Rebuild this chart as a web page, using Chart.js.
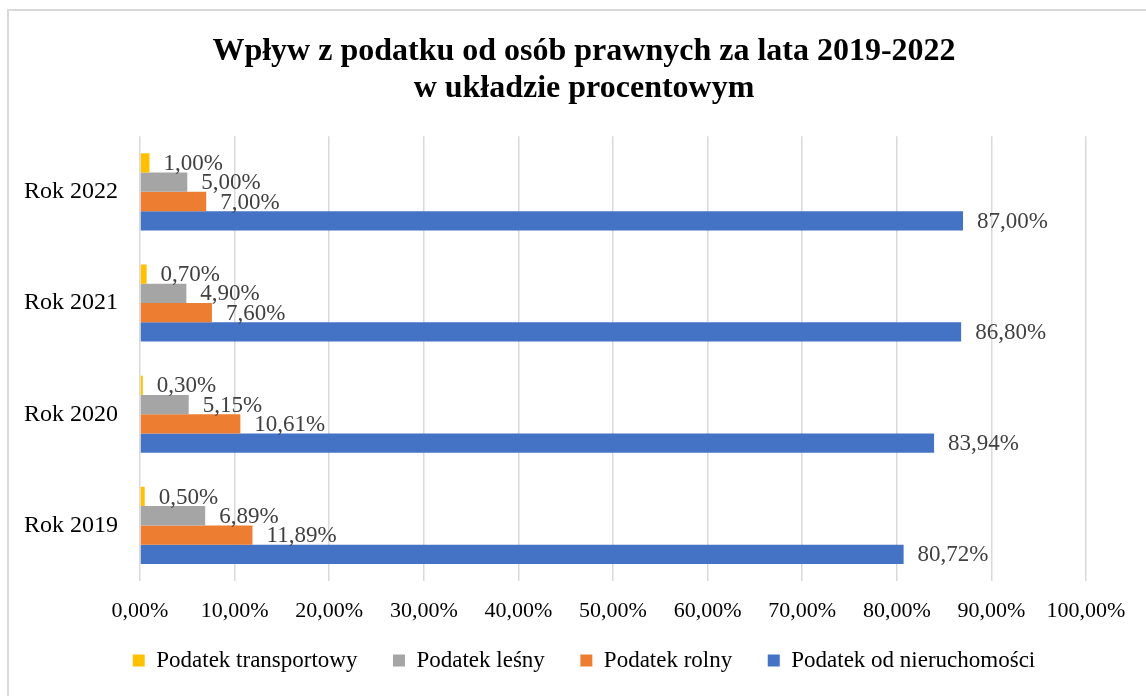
<!DOCTYPE html>
<html lang="pl">
<head>
<meta charset="utf-8">
<title>Wpływ z podatku od osób prawnych</title>
<script src="https://cdn.jsdelivr.net/npm/chart.js@4.4.1/dist/chart.umd.min.js"></script>
<style>
  html, body { margin: 0; padding: 0; background: #fff; overflow: hidden; }
  #frame {
    position: absolute; left: 7px; top: 9px; width: 1200px; height: 800px;
    border: 2px solid #d9d9d9; box-sizing: border-box;
  }
  #wrap { position: absolute; left: 0; top: 0; width: 1168px; height: 696px; }
</style>
</head>
<body>
<div id="frame"></div>
<div id="wrap"><canvas id="chart"></canvas></div>
<script>
  const categories = ['Rok 2022', 'Rok 2021', 'Rok 2020', 'Rok 2019'];
  const seriesNames = ['Podatek transportowy', 'Podatek leśny', 'Podatek rolny', 'Podatek od nieruchomości'];
  const transportowy = [1.00, 0.70, 0.30, 0.50];
  const lesny = [5.00, 4.90, 5.15, 6.89];
  const rolny = [7.00, 7.60, 10.61, 11.89];
  const nieruchomosci = [87.00, 86.80, 83.94, 80.72];
  const xTicks = [0, 10, 20, 30, 40, 50, 60, 70, 80, 90, 100];

  const colors = ['#FFC000', '#A5A5A5', '#ED7D31', '#4472C4'];
  const serif = "'Liberation Serif', 'Times New Roman', serif";

  function pct(v) {
    return v.toFixed(2).replace('.', ',') + '%';
  }

  // value labels at the end of each bar
  const barLabels = {
    id: 'barLabels',
    afterDatasetsDraw(chart) {
      const ctx = chart.ctx;
      ctx.save();
      ctx.font = '23px ' + serif;
      ctx.fillStyle = '#404040';
      ctx.textAlign = 'left';
      ctx.textBaseline = 'middle';
      chart.data.datasets.forEach((ds, di) => {
        const meta = chart.getDatasetMeta(di);
        meta.data.forEach((bar, i) => {
          ctx.fillText(pct(ds.data[i]), bar.x + 14, bar.y + 1);
        });
      });
      ctx.restore();
    }
  };

  // legend padding is wide for horizontal spacing; pull the row up a bit
  const legendNudge = {
    id: 'legendNudge',
    afterLayout(chart) {
      const lg = chart.legend;
      if (lg) {
        lg.top -= 8.5;
        lg.bottom -= 8.5;
      }
    }
  };

  Chart.defaults.font.family = serif;

  const canvas = document.getElementById('chart');
  canvas.style.width = '100%';
  canvas.style.height = '100%';

  const datasets = [transportowy, lesny, rolny, nieruchomosci].map((d, idx) => ({
    label: seriesNames[idx],
    data: d,
    backgroundColor: colors[idx],
    borderWidth: 0,
    categoryPercentage: 0.694,
    barPercentage: 1
  }));

  new Chart(canvas.getContext('2d'), {
    type: 'bar',
    data: { labels: categories, datasets },
    options: {
      indexAxis: 'y',
      responsive: true,
      maintainAspectRatio: false,
      animation: false,
      layout: { padding: { left: 0, right: 0, top: 0, bottom: 5.5 } },
      plugins: {
        title: {
          display: true,
          text: ['Wpływ z podatku od osób prawnych za lata 2019-2022', 'w układzie procentowym'],
          color: '#000',
          font: { size: 32, weight: 'bold', family: serif, lineHeight: 1.16 },
          padding: { top: 33, bottom: 29 }
        },
        legend: {
          display: true,
          position: 'bottom',
          labels: {
            color: '#000',
            font: { size: 23, family: serif },
            boxWidth: 12,
            boxHeight: 12,
            padding: 35.5
          }
        },
        tooltip: { enabled: false }
      },
      scales: {
        x: {
          min: 0,
          max: 100,
          afterBuildTicks(axis) {
            axis.ticks = xTicks.map(v => ({ value: v }));
          },
          afterFit(axis) {
            axis.height = 41;
          },
          ticks: {
            color: '#000',
            font: { size: 22, family: serif },
            padding: 17,
            callback: v => pct(v)
          },
          grid: { color: '#d9d9d9', lineWidth: 1.5, drawTicks: false },
          border: { display: false }
        },
        y: {
          afterFit(axis) {
            axis.width = 140;
          },
          ticks: {
            color: '#000',
            font: { size: 24, family: serif },
            padding: 22
          },
          grid: { display: false, drawTicks: false },
          border: { display: false }
        },
        // empty right-hand spacer so the plot ends at 100% like the original
        spacer: {
          type: 'category',
          axis: 'y',
          position: 'right',
          afterFit(axis) {
            axis.width = 82;
          },
          ticks: { display: false },
          grid: { display: false, drawTicks: false },
          border: { display: false }
        }
      }
    },
    plugins: [barLabels, legendNudge]
  });
</script>
</body>
</html>
